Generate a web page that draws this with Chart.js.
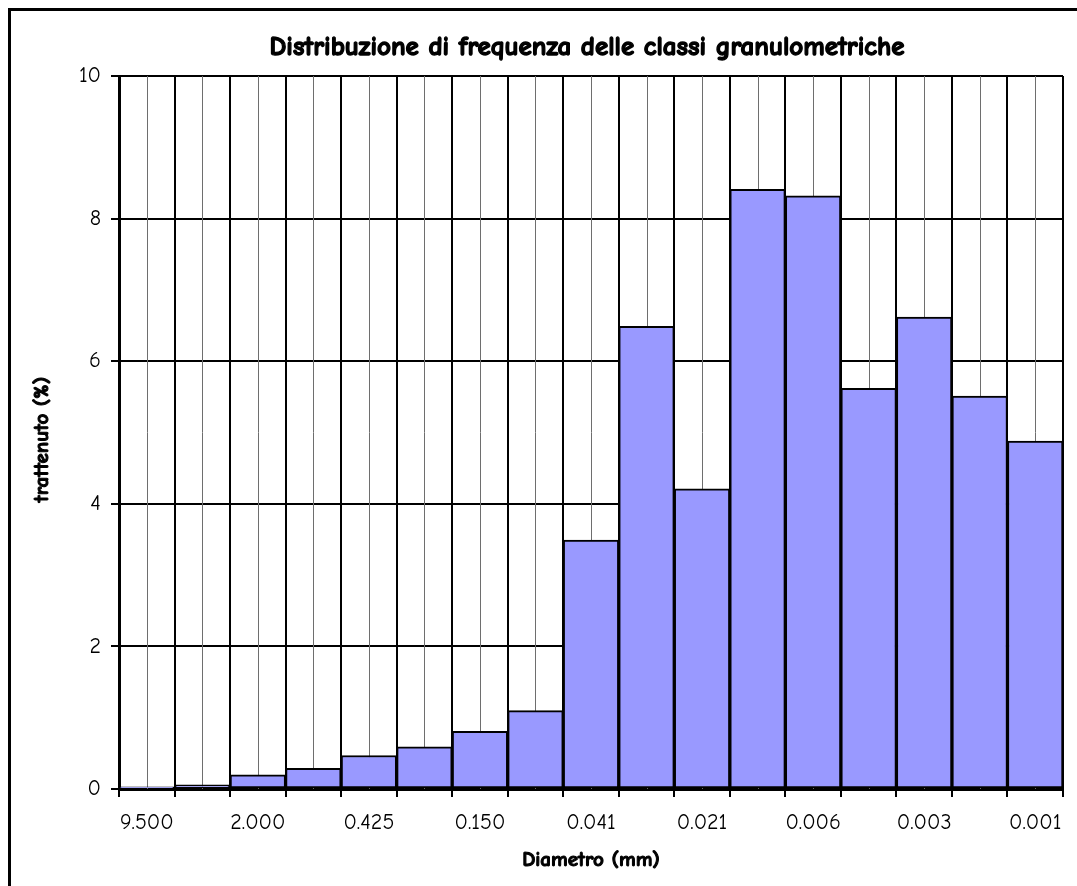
<!DOCTYPE html>
<html>
<head>
<meta charset="utf-8">
<title>Distribuzione di frequenza delle classi granulometriche</title>
<script src="https://cdn.jsdelivr.net/npm/chart.js@4.4.1/dist/chart.umd.min.js"></script>
<style>
  html, body { margin: 0; padding: 0; background: #ffffff; }
  #wrap { position: relative; width: 1077px; height: 886px; overflow: hidden; }
  #frame {
    position: absolute; left: 8px; top: 8px;
    width: 1120px; height: 920px;
    border-left: 3px solid #000; border-top: 3px solid #000;
  }
  #chart { position: absolute; left: 0; top: 0; }
</style>
</head>
<body>
<div id="wrap">
  <div id="frame"></div>
  <canvas id="chart" width="1077" height="886"></canvas>
</div>
<script>
// Sieve classes (diameter in mm); only every other class carries a label
const diameters = ['9.500', '', '2.000', '', '0.425', '', '0.150', '', '0.041', '',
                   '0.021', '', '0.006', '', '0.003', '', '0.001'];
// Percentage retained in each class
const retained = [0.03, 0.06, 0.20, 0.29, 0.47, 0.59, 0.81, 1.10, 3.49, 6.49,
                  4.21, 8.41, 8.32, 5.62, 6.62, 5.51, 4.88];
const yTicks = [0, 2, 4, 6, 8, 10];

const chartTitle = 'Distribuzione di frequenza delle classi granulometriche';
const xTitle = 'Diametro (mm)';
const yTitle = 'trattenuto (%)';
const FONT = '"Comic Sans MS", "Comic Neue", "DejaVu Sans", sans-serif';

// Thin grey lines through the middle of every class, under the bars
const midLines = {
  id: 'midLines',
  beforeDatasetsDraw(chart) {
    const { ctx, chartArea, scales } = chart;
    ctx.save();
    ctx.strokeStyle = '#6e6e6e';
    ctx.lineWidth = 1;
    for (let i = 0; i < diameters.length; i++) {
      const x = Math.round(scales.x.getPixelForValue(i)) + 0.5;
      ctx.beginPath();
      ctx.moveTo(x, chartArea.top);
      ctx.lineTo(x, chartArea.bottom);
      ctx.stroke();
    }
    ctx.restore();
  }
};

// Heavy text: fill plus a thin outline of the same colour
function heavyText(ctx, text, x, y, size, angle) {
  ctx.save();
  ctx.translate(x, y);
  if (angle) ctx.rotate(angle);
  ctx.font = 'bold ' + size + 'px ' + FONT;
  ctx.fillStyle = '#000';
  ctx.strokeStyle = '#000';
  ctx.lineWidth = size * 0.05;
  ctx.lineJoin = 'round';
  ctx.textAlign = 'center';
  ctx.textBaseline = 'middle';
  ctx.fillText(text, 0, 0);
  ctx.strokeText(text, 0, 0);
  ctx.restore();
}

// Chart title and axis titles, placed around the plot area
const titles = {
  id: 'titles',
  afterDraw(chart) {
    const { ctx, chartArea } = chart;
    const cx = (chartArea.left + chartArea.right) / 2;
    const cy = (chartArea.top + chartArea.bottom) / 2;
    heavyText(ctx, chartTitle, cx - 4, 47, 27, 0);
    heavyText(ctx, xTitle, cx, 860, 21, 0);
    heavyText(ctx, yTitle, 42, cy + 7, 21, -Math.PI / 2);
  }
};

Chart.defaults.font.family = FONT;
Chart.defaults.color = '#000';

new Chart(document.getElementById('chart'), {
  type: 'bar',
  data: {
    labels: diameters,
    datasets: [{
      data: retained,
      backgroundColor: '#9999FF',
      borderColor: '#000000',
      borderWidth: 2,
      borderSkipped: false,
      categoryPercentage: 1.0,
      barPercentage: 1.0
    }]
  },
  options: {
    responsive: false,
    animation: false,
    devicePixelRatio: 1,
    layout: { padding: { left: 20, right: 14, top: 76, bottom: 10 } },
    plugins: {
      legend: { display: false },
      tooltip: { enabled: false },
      title: { display: false }
    },
    scales: {
      x: {
        offset: true,
        grid: {
          offset: true,
          color: '#000',
          lineWidth: 2,
          drawTicks: true,
          tickLength: 8
        },
        border: { display: true, color: '#000', width: 3 },
        ticks: {
          autoSkip: false,
          maxRotation: 0,
          minRotation: 0,
          padding: 13,
          font: { size: 22 },
          color: '#000'
        },
        afterFit(scale) { scale.height = 87; }
      },
      y: {
        min: 0,
        max: 10,
        afterBuildTicks(scale) { scale.ticks = yTicks.map(v => ({ value: v })); },
        grid: {
          color: '#000',
          lineWidth: 2,
          drawTicks: true,
          tickLength: 8
        },
        border: { display: true, color: '#000', width: 3 },
        ticks: {
          padding: 10,
          font: { size: 22 },
          color: '#000'
        },
        afterFit(scale) { scale.width = 99; }
      }
    }
  },
  plugins: [midLines, titles]
});
</script>
</body>
</html>
